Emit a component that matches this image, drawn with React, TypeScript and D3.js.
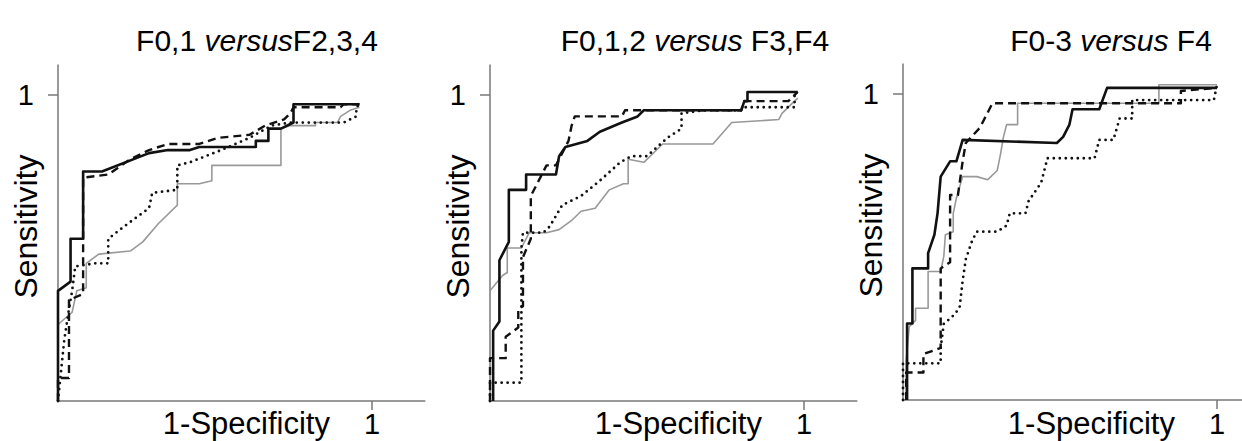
import { useEffect, useRef } from 'react';
import * as d3 from 'd3';

type Pt = [number, number];

// panel titles (the "versus" part is italic)
const TITLES: [string, string, string][] = [
  ['F0,1 ', 'versus', 'F2,3,4'],
  ['F0,1,2 ', 'versus', ' F3,F4'],
  ['F0-3 ', 'versus', ' F4'],
];
const X_LABEL = '1-Specificity';
const Y_LABEL = 'Sensitivity';
const TICK_LABEL = '1';

// ROC curves, [1-specificity, sensitivity]
const P1_SOLID: Pt[] = [[0.0, 0], [0.0, 0.36], [0.04, 0.39], [0.04, 0.53], [0.08, 0.53], [0.08, 0.75], [0.14, 0.75], [0.29, 0.81], [0.35, 0.82], [0.42, 0.82], [0.45, 0.83], [0.63, 0.83], [0.63, 0.85], [0.67, 0.85], [0.67, 0.89], [0.71, 0.89], [0.75, 0.91], [0.75, 0.97], [0.96, 0.97]];
const P1_DASHED: Pt[] = [[0, 0], [0, 0.075], [0.035, 0.075], [0.035, 0.33], [0.08, 0.35], [0.08, 0.73], [0.16, 0.74], [0.23, 0.79], [0.29, 0.82], [0.35, 0.84], [0.45, 0.84], [0.51, 0.86], [0.61, 0.87], [0.66, 0.9], [0.72, 0.92], [0.74, 0.94], [0.75, 0.96], [0.9, 0.96], [0.91, 0.97], [0.96, 0.97]];
const P1_DOTTED: Pt[] = [[0, 0], [0.01, 0.1], [0.02, 0.2], [0.035, 0.3], [0.045, 0.36], [0.055, 0.44], [0.12, 0.45], [0.16, 0.45], [0.16, 0.53], [0.21, 0.57], [0.29, 0.63], [0.3, 0.68], [0.38, 0.69], [0.38, 0.77], [0.42, 0.78], [0.52, 0.82], [0.61, 0.86], [0.68, 0.9], [0.74, 0.91], [0.91, 0.91], [0.95, 0.93], [0.95, 0.96], [0.96, 0.97]];
const P1_GRAY: Pt[] = [[0, 0], [0, 0.25], [0.045, 0.29], [0.06, 0.36], [0.09, 0.37], [0.09, 0.45], [0.13, 0.48], [0.23, 0.49], [0.27, 0.52], [0.32, 0.58], [0.38, 0.64], [0.38, 0.71], [0.45, 0.71], [0.49, 0.72], [0.49, 0.77], [0.71, 0.77], [0.71, 0.89], [0.74, 0.9], [0.82, 0.9], [0.82, 0.91], [0.89, 0.91], [0.9, 0.93], [0.93, 0.95], [0.96, 0.96]];

const P2_SOLID: Pt[] = [[0.01, 0], [0.01, 0.23], [0.03, 0.26], [0.03, 0.46], [0.06, 0.52], [0.06, 0.69], [0.115, 0.69], [0.115, 0.74], [0.21, 0.74], [0.22, 0.8], [0.24, 0.83], [0.31, 0.85], [0.35, 0.88], [0.42, 0.91], [0.47, 0.93], [0.49, 0.95], [0.8, 0.95], [0.81, 0.98], [0.82, 0.98], [0.82, 1.01], [0.98, 1.01]];
const P2_DASHED: Pt[] = [[0, 0], [0, 0.14], [0.05, 0.14], [0.05, 0.21], [0.09, 0.24], [0.09, 0.3], [0.105, 0.31], [0.105, 0.47], [0.13, 0.53], [0.13, 0.67], [0.18, 0.77], [0.21, 0.77], [0.25, 0.85], [0.26, 0.9], [0.27, 0.93], [0.42, 0.93], [0.43, 0.95], [0.8, 0.95], [0.81, 0.98], [0.95, 0.98], [0.98, 1.01]];
const P2_DOTTED: Pt[] = [[0, 0], [0, 0.06], [0.1, 0.06], [0.1, 0.5], [0.105, 0.55], [0.17, 0.55], [0.19, 0.57], [0.23, 0.64], [0.29, 0.67], [0.35, 0.72], [0.415, 0.78], [0.45, 0.8], [0.5, 0.8], [0.565, 0.86], [0.61, 0.89], [0.61, 0.94], [0.68, 0.95], [0.8, 0.95], [0.81, 0.96], [0.97, 0.96], [0.97, 1.01]];
const P2_GRAY: Pt[] = [[0, 0], [0, 0.36], [0.04, 0.41], [0.055, 0.42], [0.055, 0.5], [0.1, 0.5], [0.125, 0.55], [0.18, 0.55], [0.22, 0.56], [0.26, 0.59], [0.29, 0.62], [0.335, 0.63], [0.35, 0.65], [0.38, 0.69], [0.425, 0.71], [0.44, 0.71], [0.44, 0.79], [0.49, 0.78], [0.54, 0.83], [0.55, 0.84], [0.71, 0.84], [0.77, 0.91], [0.92, 0.92], [0.93, 0.94], [0.96, 0.97], [0.98, 0.99]];

const P3_SOLID: Pt[] = [[0.013, 0], [0.013, 0.25], [0.03, 0.25], [0.03, 0.43], [0.08, 0.43], [0.08, 0.48], [0.1, 0.54], [0.11, 0.61], [0.12, 0.73], [0.15, 0.78], [0.17, 0.78], [0.19, 0.85], [0.49, 0.84], [0.51, 0.86], [0.53, 0.9], [0.54, 0.95], [0.625, 0.95], [0.65, 1.02], [1.0, 1.02]];
const P3_DASHED: Pt[] = [[0.01, 0], [0.01, 0.09], [0.065, 0.09], [0.065, 0.15], [0.12, 0.17], [0.12, 0.43], [0.15, 0.45], [0.15, 0.67], [0.175, 0.67], [0.19, 0.78], [0.2, 0.84], [0.245, 0.89], [0.285, 0.97], [0.885, 0.97], [0.885, 1.01], [1.0, 1.02]];
const P3_DOTTED: Pt[] = [[0, 0], [0, 0.12], [0.12, 0.12], [0.12, 0.17], [0.13, 0.25], [0.155, 0.27], [0.18, 0.3], [0.19, 0.39], [0.2, 0.46], [0.22, 0.52], [0.235, 0.55], [0.3, 0.55], [0.33, 0.57], [0.34, 0.61], [0.39, 0.61], [0.4, 0.65], [0.44, 0.71], [0.46, 0.79], [0.61, 0.79], [0.625, 0.85], [0.67, 0.85], [0.69, 0.92], [0.73, 0.92], [0.73, 0.98], [0.99, 0.98], [1.0, 1.03]];
const P3_GRAY: Pt[] = [[0.01, 0], [0.01, 0.13], [0.02, 0.24], [0.04, 0.26], [0.04, 0.3], [0.08, 0.3], [0.08, 0.42], [0.12, 0.42], [0.13, 0.47], [0.135, 0.54], [0.16, 0.55], [0.16, 0.61], [0.17, 0.66], [0.19, 0.73], [0.235, 0.73], [0.27, 0.72], [0.3, 0.75], [0.31, 0.8], [0.32, 0.86], [0.33, 0.9], [0.365, 0.9], [0.365, 0.97], [0.815, 0.97], [0.815, 1.03], [1.0, 1.03]];

const PANELS = [
  { solid: P1_SOLID, dashed: P1_DASHED, dotted: P1_DOTTED, gray: P1_GRAY },
  { solid: P2_SOLID, dashed: P2_DASHED, dotted: P2_DOTTED, gray: P2_GRAY },
  { solid: P3_SOLID, dashed: P3_DASHED, dotted: P3_DOTTED, gray: P3_GRAY },
];

const W = 1242, H = 441;
const LEFT = [58, 490, 903];
const BOTTOM = [401, 401, 400];
const TITLE_X = [257, 695, 1111];
const PW = 314, PH = 306;
const FONT = 'Liberation Sans, Arial, sans-serif';

export default function App() {
  const ref = useRef<SVGSVGElement>(null);

  useEffect(() => {
    const svg = d3.select(ref.current);
    svg.selectAll('*').remove();
    svg.append('rect').attr('width', W).attr('height', H).attr('fill', '#fff');

    PANELS.forEach((p, k) => {
      const x = d3.scaleLinear().domain([0, 1]).range([LEFT[k], LEFT[k] + PW]);
      const y = d3.scaleLinear().domain([0, 1]).range([BOTTOM[k], BOTTOM[k] - PH]);
      const g = svg.append('g');

      // axes: plain lines running a bit past 1, single tick at 1
      const axisCol = '#777';
      g.append('line').attr('x1', x(0)).attr('x2', x(0)).attr('y1', y(0)).attr('y2', y(1.1))
        .attr('stroke', axisCol).attr('stroke-width', 1.5);
      g.append('line').attr('x1', x(0)).attr('x2', x(1.17)).attr('y1', y(0)).attr('y2', y(0))
        .attr('stroke', axisCol).attr('stroke-width', 1.5);
      g.append('line').attr('x1', x(0) - 10).attr('x2', x(0)).attr('y1', y(1)).attr('y2', y(1))
        .attr('stroke', axisCol).attr('stroke-width', 1.5);
      g.append('line').attr('x1', x(1)).attr('x2', x(1)).attr('y1', y(0)).attr('y2', y(0) + 9)
        .attr('stroke', axisCol).attr('stroke-width', 1.5);

      g.append('text').attr('x', x(0) - 24).attr('y', y(1)).attr('dy', '0.36em')
        .attr('text-anchor', 'end').attr('font-size', 29).attr('font-family', FONT).text(TICK_LABEL);
      g.append('text').attr('x', x(1)).attr('y', 434)
        .attr('text-anchor', 'middle').attr('font-size', 29).attr('font-family', FONT).text(TICK_LABEL);
      g.append('text').attr('x', x(0.6)).attr('y', 434)
        .attr('text-anchor', 'middle').attr('font-size', 31).attr('font-family', FONT).text(X_LABEL);
      g.append('text').attr('transform', `translate(${x(0) - 21},${y(0.57)}) rotate(-90)`)
        .attr('text-anchor', 'middle').attr('font-size', 32).attr('font-family', FONT).text(Y_LABEL);

      const [a, b, c] = TITLES[k];
      const t = g.append('text').attr('x', TITLE_X[k]).attr('y', 51)
        .attr('text-anchor', 'middle').attr('font-size', 30).attr('font-family', FONT);
      t.append('tspan').text(a);
      t.append('tspan').attr('font-style', 'italic').text(b);
      t.append('tspan').text(c);

      const line = d3.line<Pt>().x(d => x(d[0])).y(d => y(d[1]));
      const curves = g.append('g').attr('fill', 'none').attr('stroke-linejoin', 'round');
      curves.append('path').attr('d', line(p.gray) ?? '').attr('stroke', '#999').attr('stroke-width', 1.6);
      curves.append('path').attr('d', line(p.dotted) ?? '').attr('stroke', '#111').attr('stroke-width', 2.8)
        .attr('stroke-dasharray', '0 6').attr('stroke-linecap', 'round');
      curves.append('path').attr('d', line(p.dashed) ?? '').attr('stroke', '#111').attr('stroke-width', 2.4)
        .attr('stroke-dasharray', '8 5');
      curves.append('path').attr('d', line(p.solid) ?? '').attr('stroke', '#111').attr('stroke-width', 2.6);
    });
  }, []);

  return (
    <svg ref={ref} width={W} height={H} viewBox={`0 0 ${W} ${H}`}
      style={{ position: 'absolute', left: 0, top: 0, display: 'block' }} />
  );
}
